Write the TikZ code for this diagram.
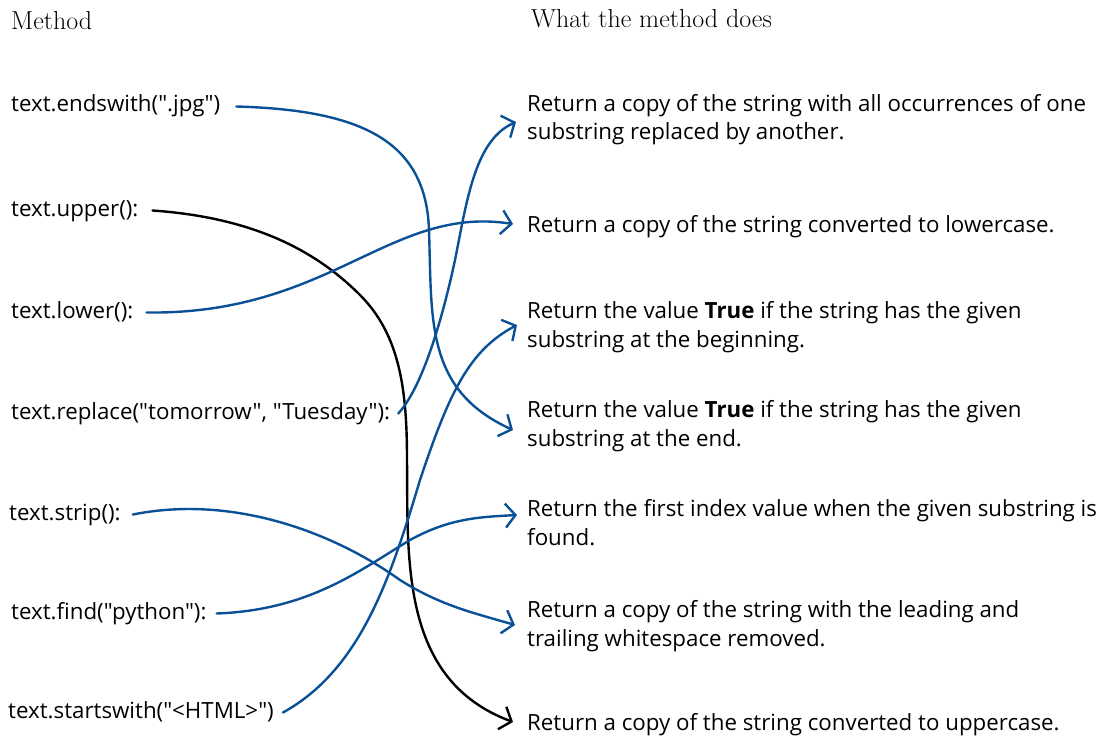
\documentclass[tikz,border=0pt]{standalone}
\usepackage{fontspec}
\newfontfamily\bodyfont{Open Sans}
\usetikzlibrary{arrows.meta}
\definecolor{lineblue}{RGB}{10,80,150}
\tikzset{
  meth/.style={anchor=base west, inner sep=0pt, text height=15pt, text depth=4pt,
    font=\bodyfont\fontsize{22.3}{26}\selectfont},
  desc/.style={anchor=base west, inner sep=0pt, align=left,
    font=\bodyfont\fontsize{22.3}{28.5}\selectfont},
  head/.style={anchor=base west, inner sep=0pt, font=\fontsize{26}{30}\selectfont},
  conn/.style={line width=2.4pt, line cap=round, line join=round,
    -{Straight Barb[length=10pt,width=24pt,line width=2.4pt]}},
  blueconn/.style={conn, draw=lineblue},
  blackconn/.style={conn, draw=black}
}
\begin{document}
\begin{tikzpicture}[x=1pt,y=-1pt]
\useasboundingbox (0,0) rectangle (1113,738);
% headers
\node[head] (h1) at (11,30) {Method};
\node[head] (h2) at (531,28) {What the method does};
% methods
\node[meth] (m1) at (11,112) {text.endswith(".jpg")};
\node[meth] (m2) at (11,216) {text.upper():};
\node[meth] (m3) at (11,318) {text.lower():};
\node[meth] (m4) at (11,419) {text.replace("tomorrow", "Tuesday"):};
\node[meth] (m5) at (9,520) {text.strip():};
\node[meth] (m6) at (11,619) {text.find("python"):};
\node[meth] (m7) at (8,718) {text.startswith("<HTML>")};
% descriptions (base anchor = baseline of the last line)
\node[desc] (d1) at (527,140) {Return a copy of the string with all occurrences of one\\substring replaced by another.};
\node[desc] (d2) at (527,232) {Return a copy of the string converted to lowercase.};
\node[desc] (d3) at (527,347) {Return the value \textbf{True} if the string has the given\\substring at the beginning.};
\node[desc] (d4) at (527,446) {Return the value \textbf{True} if the string has the given\\substring at the end.};
\node[desc] (d5) at (527,545) {Return the first index value when the given substring is\\found.};
\node[desc] (d6) at (527,646) {Return a copy of the string with the leading and\\trailing whitespace removed.};
\node[desc] (d7) at (527,730) {Return a copy of the string converted to uppercase.};
% connectors
\draw[blueconn] ([xshift=16pt]m1.east) .. controls (360,110) and (426,140) .. (429,230)
  .. controls (432,320) and (425,390) .. ([xshift=-14pt,yshift=16pt]d4.base west);
\draw[blackconn] ([xshift=14pt]m2.east) .. controls (260,218) and (320,255) .. (360,295)
  .. controls (400,335) and (407,390) .. (407,460)
  .. controls (408,560) and (400,680) .. ([xshift=-14pt,yshift=8pt]d7.base west);
\draw[blueconn] ([xshift=13pt]m3.east) .. controls (330,315) and (390,205) .. ([xshift=-14pt,yshift=8pt]d2.base west);
\draw[blueconn] ([xshift=8pt]m4.east) .. controls (420,390) and (440,330) .. (455,260)
  .. controls (467,200) and (475,140) .. ([xshift=-11pt,yshift=18pt]d1.base west);
\draw[blueconn] ([xshift=12pt]m5.east) .. controls (230,495) and (330,530) .. (400,580)
  .. controls (440,605) and (470,612) .. ([xshift=-12pt,yshift=21pt]d6.base west);
\draw[blueconn] ([xshift=10pt]m6.east) .. controls (310,610) and (360,570) .. (410,540)
  .. controls (450,518) and (480,517) .. ([xshift=-10pt,yshift=30pt]d5.base west);
\draw[blueconn] ([xshift=9pt]m7.east) .. controls (360,670) and (390,580) .. (420,480)
  .. controls (450,390) and (470,350) .. ([xshift=-10pt,yshift=22pt]d3.base west);
\end{tikzpicture}
\end{document}
